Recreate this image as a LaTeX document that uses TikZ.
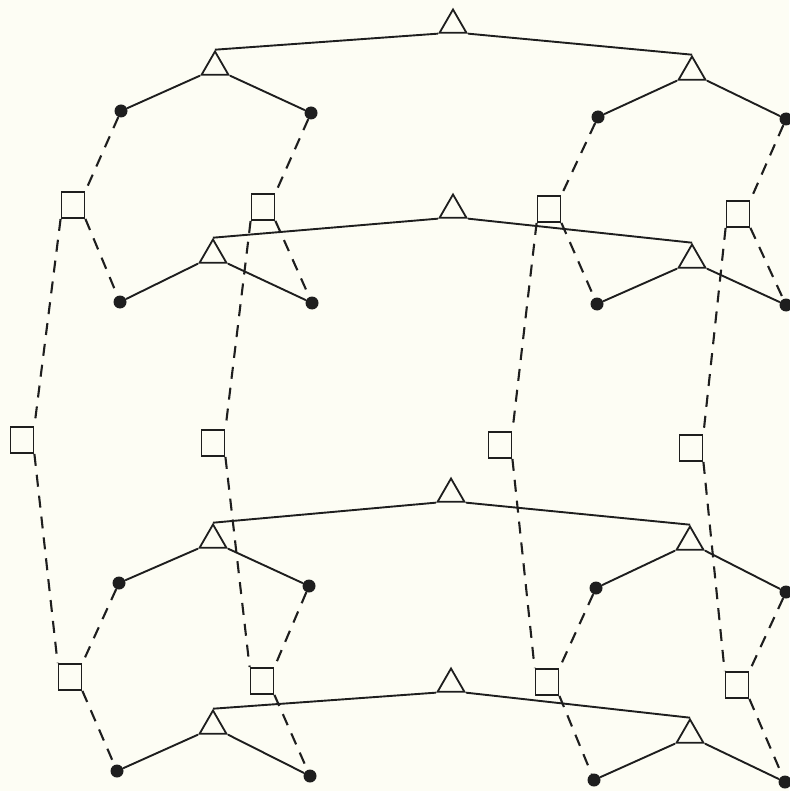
\documentclass[tikz,border=0pt]{standalone}
\usetikzlibrary{shapes.geometric}
\definecolor{paper}{RGB}{253,253,244}
\definecolor{ink}{RGB}{30,30,30}
\begin{document}
\begin{tikzpicture}[x=1pt,y=-1pt,
 tri/.style={draw=ink, regular polygon, regular polygon sides=3, minimum size=31pt, inner sep=0pt, line width=1.8pt},
 dot/.style={circle, fill=ink, minimum size=13pt, inner sep=0pt},
 box/.style={draw=ink, rectangle, minimum width=23pt, minimum height=26pt, inner sep=0pt, line width=1.8pt},
 edge/.style={draw=ink, line width=1.9pt},
 dsh/.style={draw=ink, line width=2.1pt, dash pattern=on 12pt off 9pt}
]
\fill[paper] (0,0) rectangle (789,791);
\useasboundingbox (0,0) rectangle (789,791);

% trees
\foreach \k/\tx/\ty/\lx/\ly/\rx/\ry/\ax/\ay/\bx/\by/\cx/\cy/\dx/\dy in {
  1/453/25/215/67/692/72/121/111/311/113/598/117/786/119,
  2/453/210/213/255/692/260/120/302/312/303/597/304/786/305,
  3/451/494/213/540/690/542/119/583/309/586/596/588/786/592,
  4/451/684/213/726/690/735/117/771/310/776/594/780/785/782}{
  \node[tri] (T\k) at (\tx,\ty) {};
  \node[tri] (L\k) at (\lx,\ly) {};
  \node[tri] (R\k) at (\rx,\ry) {};
  \node[dot] (D\k1) at (\ax,\ay) {};
  \node[dot] (D\k2) at (\bx,\by) {};
  \node[dot] (D\k3) at (\cx,\cy) {};
  \node[dot] (D\k4) at (\dx,\dy) {};
  \draw[edge] (T\k.corner 2) -- (L\k.corner 1);
  \draw[edge] (T\k.corner 3) -- (R\k.corner 1);
  \draw[edge] (L\k.corner 2) -- (D\k1);
  \draw[edge] (L\k.corner 3) -- (D\k2);
  \draw[edge] (R\k.corner 2) -- (D\k3);
  \draw[edge] (R\k.corner 3) -- (D\k4);
}

% squares
\foreach \j/\ax/\ay/\mx/\my/\bx/\by in {
  1/73/205/22/440/70/677,
  2/263/207/213/443/262/681,
  3/549/209/500/445/547/682,
  4/738/214/691/448/737/685}{
  \node[box] (A\j) at (\ax,\ay) {};
  \node[box] (M\j) at (\mx,\my) {};
  \node[box] (B\j) at (\bx,\by) {};
  \draw[dsh] (D1\j) -- (A\j.north east);
  \draw[dsh] (A\j.south east) -- (D2\j);
  \draw[dsh] (A\j.south west) -- (M\j.north east);
  \draw[dsh] (M\j.south east) -- (B\j.north west);
  \draw[dsh] (D3\j) -- (B\j.north east);
  \draw[dsh] (B\j.south east) -- (D4\j);
}
\end{tikzpicture}
\end{document}
